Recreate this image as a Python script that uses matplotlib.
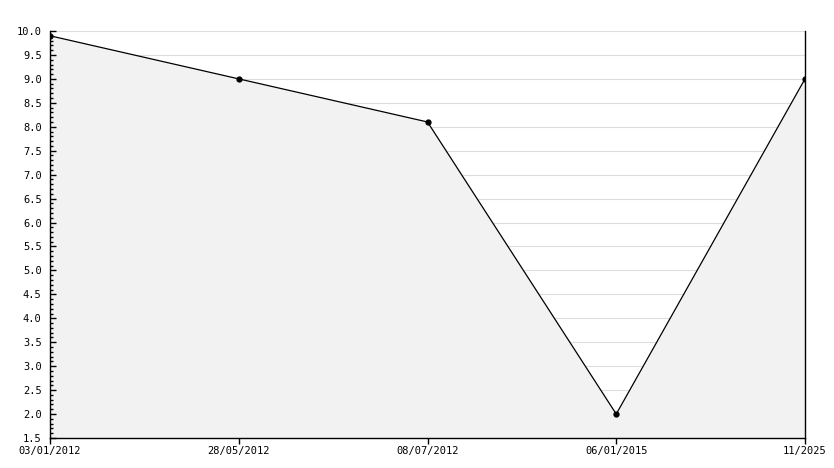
import matplotlib
matplotlib.use("Agg")
from matplotlib import pyplot as plt
from matplotlib.ticker import MultipleLocator, FormatStrFormatter

date_labels = ["03/01/2012", "28/05/2012", "08/07/2012", "06/01/2015", "11/2025"]
valori = [9.9, 9.0, 8.1, 2.0, 9.0]
y_min, y_max = 1.5, 10.0

plt.rcParams['font.family'] = ['DejaVu Sans Mono']

fig = plt.figure(figsize=(8.34, 4.68), dpi=100)
ax = fig.add_axes([50 / 834, 30 / 468, 755 / 834, 407 / 468])

x = list(range(len(valori)))
ax.set_xlim(0, len(valori) - 1)
ax.set_ylim(y_min, y_max)

ax.yaxis.set_major_locator(MultipleLocator(0.5))
ax.yaxis.set_minor_locator(MultipleLocator(0.1))
ax.yaxis.set_major_formatter(FormatStrFormatter('%.1f'))

# griglia sotto il riempimento, tick sopra
for yv in ax.yaxis.get_majorticklocs():
    if y_min < yv <= y_max:
        ax.axhline(yv, color='#dddddd', linewidth=0.8, zorder=0)

ax.fill_between(x, valori, y_min, color='#f2f2f2', zorder=1, linewidth=0)
ax.plot(x, valori, color='black', linewidth=0.9, marker='o', markersize=3.5, zorder=3)

ax.set_xticks(x)
ax.set_xticklabels(date_labels)

ax.spines['top'].set_visible(False)
for s in ['left', 'bottom', 'right']:
    ax.spines[s].set_color('black')
    ax.spines[s].set_linewidth(1)

ax.tick_params(axis='y', which='major', direction='in', length=4, width=1, labelsize=7.5, pad=6)
ax.tick_params(axis='y', which='minor', direction='in', length=2.5, width=1)
ax.tick_params(axis='x', which='major', direction='out', length=4, width=1, labelsize=7.5, pad=2)

fig.savefig("out.png", dpi=100)
